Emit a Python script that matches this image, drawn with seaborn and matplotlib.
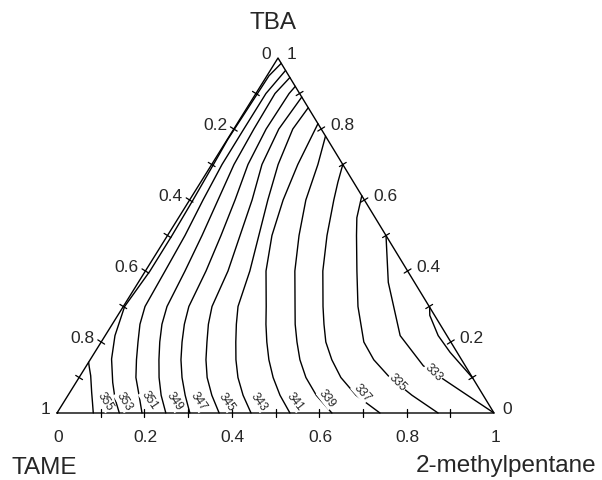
import numpy as np
import pandas as pd
import matplotlib
matplotlib.use("Agg")
import matplotlib.pyplot as plt
import seaborn as sns

# isotherms (K): TBA mole fraction t and 2-methylpentane mole fraction m along each line
t355 = [0.143, 0.13, 0.105, 0.058, 0.03, 0.0]
m355 = [0.0, 0.008, 0.024, 0.050, 0.066, 0.083]

t353 = [0.985, 0.95, 0.9, 0.8, 0.77, 0.7, 0.6, 0.5, 0.4, 0.3, 0.218, 0.152, 0.086, 0.04, 0.0]
m353 = [0.015, 0.0047, 0.0037, 0.0016, 0.001, 0.004, 0.0078, 0.0103, 0.0105, 0.003, 0.0224, 0.048, 0.084, 0.1126, 0.1426]

t351 = [0.965, 0.9, 0.8, 0.7, 0.6, 0.5, 0.4, 0.3, 0.25, 0.2, 0.15, 0.1, 0.05, 0.0]
m351 = [0.035, 0.023, 0.023, 0.0236, 0.0307, 0.040, 0.045, 0.0497, 0.0634, 0.0842, 0.106, 0.130, 0.1625, 0.1945]

t349 = [0.945, 0.9, 0.8, 0.7, 0.6, 0.5, 0.4, 0.3, 0.25, 0.2, 0.15, 0.1, 0.05, 0.0]
m349 = [0.055, 0.0437, 0.046, 0.051, 0.065, 0.079, 0.0906, 0.100, 0.1137, 0.134, 0.1574, 0.183, 0.213, 0.249]

t347 = [0.92, 0.9, 0.8, 0.7, 0.6, 0.5, 0.4, 0.3, 0.25, 0.2, 0.15, 0.1, 0.05, 0.0]
m347 = [0.08, 0.076, 0.074, 0.083, 0.104, 0.1224, 0.1387, 0.150, 0.165, 0.185, 0.2078, 0.2355, 0.268, 0.304]

t345 = [0.89, 0.8, 0.7, 0.6, 0.5, 0.4, 0.3, 0.25, 0.2, 0.15, 0.1, 0.05, 0.0]
m345 = [0.11, 0.103, 0.115, 0.143, 0.166, 0.189, 0.203, 0.220, 0.242, 0.265, 0.293, 0.329, 0.371]

t343 = [0.86, 0.8, 0.7, 0.6, 0.5, 0.4, 0.3, 0.25, 0.2, 0.15, 0.1, 0.05, 0.0]
m343 = [0.14, 0.135, 0.152, 0.179, 0.209, 0.239, 0.2625, 0.284, 0.308, 0.3336, 0.3635, 0.4005, 0.444]

t341 = [0.815, 0.7, 0.6, 0.5, 0.4, 0.3, 0.25, 0.2, 0.15, 0.1, 0.05, 0.0]
m341 = [0.185, 0.197, 0.214, 0.239, 0.276, 0.327, 0.3517, 0.379, 0.409, 0.444, 0.485, 0.533]

t339 = [0.78, 0.7, 0.6, 0.5, 0.4, 0.3, 0.25, 0.2, 0.15, 0.1, 0.05, 0.0]
m339 = [0.22, 0.243, 0.266, 0.301, 0.342, 0.393, 0.4186, 0.448, 0.480, 0.519, 0.568, 0.629]

t337 = [0.70, 0.65, 0.6, 0.5, 0.4, 0.3, 0.25, 0.2, 0.15, 0.1, 0.05, 0.0]
m337 = [0.30, 0.314, 0.330, 0.365, 0.406, 0.457, 0.4845, 0.514, 0.553, 0.599, 0.659, 0.739]

t335 = [0.612, 0.55, 0.5, 0.4, 0.3, 0.2, 0.15, 0.1, 0.05, 0.0]
m335 = [0.388, 0.408, 0.4325, 0.484, 0.537, 0.601, 0.649, 0.711, 0.787, 0.872]

t333 = [0.5, 0.434, 0.368, 0.218, 0.133, 0.058, 0.0]
m333 = [0.5, 0.536, 0.572, 0.675, 0.771, 0.900, 1.0]

t331 = [0.298, 0.275, 0.218, 0.171, 0.098]
m331 = [0.702, 0.714, 0.762, 0.813, 0.902]

# contour label positions (same composition coordinates) and angles
label_levels = [355, 353, 351, 349, 347, 345, 343, 341, 339, 337, 335, 333]
label_t = [0.034, 0.034, 0.037, 0.034, 0.034, 0.034, 0.034, 0.034, 0.042, 0.059, 0.087, 0.116]
label_m = [0.093, 0.136, 0.192, 0.251, 0.306, 0.370, 0.445, 0.527, 0.597, 0.668, 0.736, 0.804]
label_rot = [-58, -58, -56, -56, -56, -55, -54, -52, -52, -48, -45, -45]

tick_values = [0.1, 0.2, 0.3, 0.4, 0.5, 0.6, 0.7, 0.8, 0.9]
label_values = [0, 0.2, 0.4, 0.6, 0.8, 1]
label_text = ["0", "0.2", "0.4", "0.6", "0.8", "1"]

isotherms = {
    355: (t355, m355), 353: (t353, m353), 351: (t351, m351), 349: (t349, m349),
    347: (t347, m347), 345: (t345, m345), 343: (t343, m343), 341: (t341, m341),
    339: (t339, m339), 337: (t337, m337), 335: (t335, m335), 333: (t333, m333),
    331: (t331, m331),
}

# triangle geometry in pixels (skewed apex as in the original)
W_PX, H_PX = 437, 355
APEX = 221 / 437


def to_xy(t, m):
    t = np.asarray(t, float)
    m = np.asarray(m, float)
    return m + APEX * t, t


rows = []
for level, (t, m) in isotherms.items():
    x, y = to_xy(t, m)
    for i, (xx, yy) in enumerate(zip(x, y)):
        rows.append({"level": level, "order": i, "X": xx, "Y": yy})
df = pd.DataFrame(rows)

sns.set_theme(style="white")
plt.rcParams["font.family"] = ["Liberation Sans", "DejaVu Sans"]

fig = plt.figure(figsize=(6.02, 4.81), dpi=100)
ax = fig.add_axes([57 / 602, (481 - 414) / 481, W_PX / 602, H_PX / 481])
ax.set_xlim(0, 1)
ax.set_ylim(0, 1)
ax.axis("off")

sns.lineplot(data=df, x="X", y="Y", units="level", estimator=None, sort=False,
             color="black", lw=1.0, legend=False, ax=ax)
for line in ax.lines:
    line.set_clip_on(False)

# triangle frame
ax.plot([0, 1, APEX, 0], [0, 0, 1, 0], color="black", lw=1.0, clip_on=False)

# outward normals (pixel space, y up) of the three edges
n_bottom = np.array([0.0, -1.0])
n_left = np.array([-H_PX, APEX * W_PX]); n_left /= np.hypot(*n_left)
n_right = np.array([H_PX, (1 - APEX) * W_PX]); n_right /= np.hypot(*n_right)


def tick(x, y, n, half=4):
    dx, dy = n[0] * half / W_PX, n[1] * half / H_PX
    ax.plot([x - dx, x + dx], [y - dy, y + dy], color="black", lw=0.9, clip_on=False)


for f in tick_values:
    tick(*to_xy(0, f), n_bottom)        # 2-methylpentane axis
    tick(*to_xy(1 - f, 0), n_left)      # TAME axis
    tick(*to_xy(f, 1 - f), n_right)     # TBA axis

fs = 12.5
for v, s in zip(label_values, label_text):
    x, y = to_xy(0, v)
    ax.annotate(s, (x, y), xytext=(1, -24), textcoords="offset pixels",
                ha="center", va="center", fontsize=fs, annotation_clip=False)
    x, y = to_xy(1 - v, 0)
    ax.annotate(s, (x, y), xytext=tuple(n_left * 8), textcoords="offset pixels",
                ha="right", va="center", fontsize=fs, annotation_clip=False)
    x, y = to_xy(v, 1 - v)
    ax.annotate(s, (x, y), xytext=tuple(n_right * 8 + [2, 0]), textcoords="offset pixels",
                ha="left", va="center", fontsize=fs, annotation_clip=False)

# component names at the vertices
ax.annotate("TBA", to_xy(1, 0), xytext=(-5, 36), textcoords="offset pixels",
            ha="center", va="center", fontsize=17.5, annotation_clip=False)
ax.annotate("TAME", to_xy(0, 0), xytext=(-13, -54), textcoords="offset pixels",
            ha="center", va="center", fontsize=17.5, annotation_clip=False)
ax.annotate("2-methylpentane", to_xy(0, 1), xytext=(12, -52), textcoords="offset pixels",
            ha="center", va="center", fontsize=17.5, annotation_clip=False)

# isotherm labels
for lev, t, m, r in zip(label_levels, label_t, label_m, label_rot):
    x, y = to_xy(t, m)
    ax.text(x, y, str(lev), rotation=r, rotation_mode="anchor", ha="center", va="center",
            fontsize=8.5, bbox=dict(boxstyle="square,pad=0.05", fc="white", ec="none"))

fig.savefig("out.png", dpi=100)
